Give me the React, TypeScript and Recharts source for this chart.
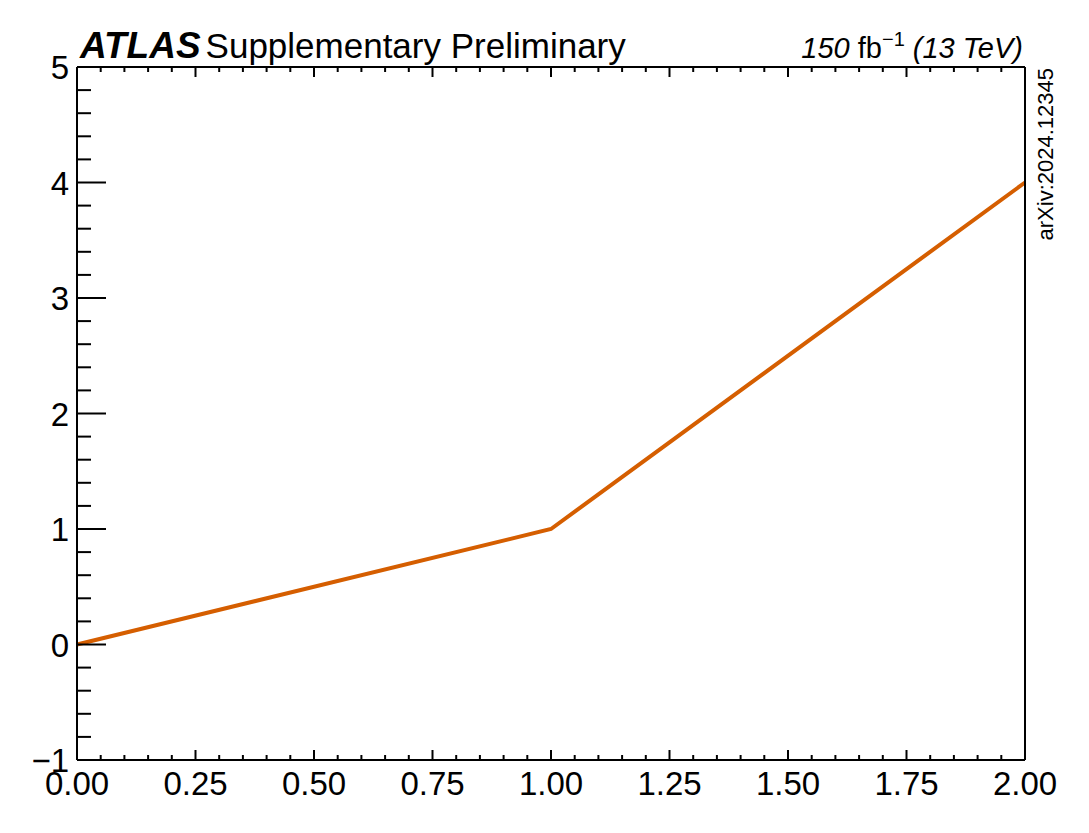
import { Line, LineChart, XAxis, YAxis } from 'recharts'

const xValues = [0, 1, 2]
const yValues = [0, 1, 4]

const xMajorTicks = [0, 0.25, 0.5, 0.75, 1, 1.25, 1.5, 1.75, 2]
const yMajorTicks = [-1, 0, 1, 2, 3, 4, 5]
const xTickLabels = ['0.00', '0.25', '0.50', '0.75', '1.00', '1.25', '1.50', '1.75', '2.00']
const yTickLabels = ['\u22121', '0', '1', '2', '3', '4', '5']

const data = xValues.map((x, i) => ({ x, y: yValues[i] }))

// five minor divisions between each pair of major ticks, like ROOT/ATLAS style
function withMinor(majors: number[], n: number) {
  const out: number[] = []
  for (let i = 0; i < majors.length - 1; i++) {
    const step = (majors[i + 1] - majors[i]) / n
    for (let k = 0; k < n; k++) out.push(+(majors[i] + k * step).toFixed(6))
  }
  out.push(majors[majors.length - 1])
  return out
}

const xTicks = withMinor(xMajorTicks, 5)
const yTicks = withMinor(yMajorTicks, 5)

const FONT = '"Liberation Sans", Arial, Helvetica, sans-serif'
const LINE_COLOR = '#d55e00'

const isMajor = (v: number, majors: number[]) => majors.some((m) => Math.abs(m - v) < 1e-6)

function BottomTick({ x, y, payload }: any) {
  const major = isMajor(payload.value, xMajorTicks)
  const idx = xMajorTicks.findIndex((m) => Math.abs(m - payload.value) < 1e-6)
  return (
    <g>
      <line x1={x} x2={x} y1={y} y2={y - (major ? 10 : 5)} stroke="#000" strokeWidth={2} />
      {major && (
        <text x={x} y={y + 35} textAnchor="middle" fontSize={33} fontFamily={FONT} fill="#000">
          {xTickLabels[idx]}
        </text>
      )}
    </g>
  )
}

function TopTick({ x, y, payload }: any) {
  const major = isMajor(payload.value, xMajorTicks)
  return <line x1={x} x2={x} y1={y} y2={y + (major ? 10 : 5)} stroke="#000" strokeWidth={2} />
}

function LeftTick({ x, y, payload }: any) {
  const major = isMajor(payload.value, yMajorTicks)
  const idx = yMajorTicks.findIndex((m) => Math.abs(m - payload.value) < 1e-6)
  return (
    <g>
      <line x1={x} x2={x + (major ? 29 : 14)} y1={y} y2={y} stroke="#000" strokeWidth={2} />
      {major && (
        <text x={x - 8} y={y + 12} textAnchor="end" fontSize={33} fontFamily={FONT} fill="#000">
          {yTickLabels[idx]}
        </text>
      )}
    </g>
  )
}

function RightTick({ x, y, payload }: any) {
  const major = isMajor(payload.value, yMajorTicks)
  return <line x1={x} x2={x - (major ? 29 : 14)} y1={y} y2={y} stroke="#000" strokeWidth={2} />
}

export default function App() {
  return (
    <div style={{ position: 'absolute', left: 0, top: 0, width: 1089, height: 833, background: '#fff' }}>
      <LineChart
        width={1089}
        height={833}
        data={data}
        margin={{ top: 57, right: 54, bottom: 33, left: 7 }}
      >
        <XAxis
          xAxisId="bottom"
          dataKey="x"
          type="number"
          domain={[0, 2]}
          ticks={xTicks}
          interval={0}
          height={40}
          tickSize={0}
          tickMargin={0}
          tickLine={false}
          axisLine={{ stroke: '#000', strokeWidth: 2 }}
          tick={<BottomTick />}
        />
        <XAxis
          xAxisId="top"
          orientation="top"
          dataKey="x"
          type="number"
          domain={[0, 2]}
          ticks={xTicks}
          interval={0}
          height={10}
          tickSize={0}
          tickMargin={0}
          tickLine={false}
          axisLine={{ stroke: '#000', strokeWidth: 2 }}
          tick={<TopTick />}
        />
        <YAxis
          yAxisId="left"
          type="number"
          domain={[-1, 5]}
          ticks={yTicks}
          interval={0}
          width={70}
          tickSize={0}
          tickMargin={0}
          tickLine={false}
          axisLine={{ stroke: '#000', strokeWidth: 2 }}
          tick={<LeftTick />}
        />
        <YAxis
          yAxisId="right"
          orientation="right"
          type="number"
          domain={[-1, 5]}
          ticks={yTicks}
          interval={0}
          width={10}
          tickSize={0}
          tickMargin={0}
          tickLine={false}
          axisLine={{ stroke: '#000', strokeWidth: 2 }}
          tick={<RightTick />}
        />
        <Line
          xAxisId="bottom"
          yAxisId="left"
          type="linear"
          dataKey="y"
          stroke={LINE_COLOR}
          strokeWidth={4}
          dot={false}
          activeDot={false}
          isAnimationActive={false}
        />
        <text x={80} y={58} fontFamily={FONT} fontSize={35} fill="#000">
          <tspan fontWeight="bold" fontStyle="italic" fontSize={37}>ATLAS</tspan>
          <tspan dx={5}>Supplementary Preliminary</tspan>
        </text>
        <text x={1023} y={58} textAnchor="end" fontFamily={FONT} fontSize={29} fill="#000">
          <tspan fontStyle="italic">150</tspan>
          <tspan> fb</tspan>
          <tspan fontSize={20} dy={-12}>{'\u22121'}</tspan>
          <tspan dy={12} fontStyle="italic"> (13 TeV)</tspan>
        </text>
        <text
          x={1053}
          y={68}
          transform="rotate(-90 1053 68)"
          textAnchor="end"
          fontFamily={FONT}
          fontSize={22}
          fill="#000"
        >
          arXiv:2024.12345
        </text>
      </LineChart>
    </div>
  )
}
